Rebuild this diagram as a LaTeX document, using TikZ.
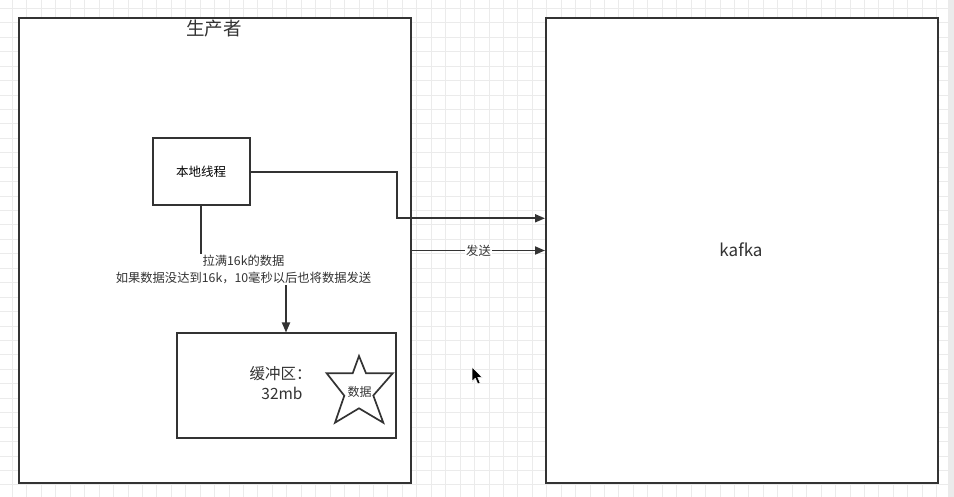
\documentclass[tikz,border=0pt]{standalone}
\usepackage{fontspec}
\setmainfont{Noto Sans CJK SC}
\usetikzlibrary{arrows.meta}
\definecolor{linec}{HTML}{333333}
\definecolor{gridc}{HTML}{EBEBEB}
\tikzset{
  px/.style={x=1pt,y=-1pt},
  gridline/.style={draw=gridc,line width=0.8pt},
  bigbox/.style={draw=linec,fill=white,line width=2pt,inner sep=0pt,anchor=north west},
  smallbox/.style={draw=linec,fill=white,line width=2pt,inner sep=0pt,anchor=north west,font=\fontsize{12.5}{15}\selectfont},
  conn/.style={draw=linec,line width=1.8pt},
  arr/.style={conn,-{Triangle[length=10pt,width=8pt]}},
  lbl/.style={fill=white,inner sep=1pt,font=\fontsize{12.3}{16.3}\selectfont,text=linec},
}
\begin{document}
\begin{tikzpicture}[px]
\useasboundingbox (0,0) rectangle (954,497);
\fill[white] (0,0) rectangle (954,497);
% grid
\foreach \i in {0,...,65} \draw[gridline] ({12.4+\i*14.44},0) -- ({12.4+\i*14.44},497);
\foreach \j in {0,...,34} \draw[gridline] (0,{8.3+\j*14.44}) -- (954,{8.3+\j*14.44});
\fill[gridc] (948,0) rectangle (954,497);
% boxes
\node[bigbox,minimum width=392pt,minimum height=465pt] (prod) at (18,17) {};
\node[font=\fontsize{18.5}{20}\selectfont,text=linec,anchor=center] (prodtitle) at (214,28.5) {生产者};
\node[bigbox,minimum width=392pt,minimum height=465pt] (kafka) at (545,17) {};
\node[font=\fontsize{17}{18}\selectfont,text=linec] (kafkalbl) at (741,250) {kafka};
\node[smallbox,minimum width=97pt,minimum height=67pt] (thread) at (151.5,137.5) {本地线程};
\node[smallbox,minimum width=219pt,minimum height=104pt] (buf) at (175.5,332.5) {};
\node[align=center,font=\fontsize{15.5}{20}\selectfont,text=linec] (buflbl) at (280.5,383) {缓冲区：\\\hspace*{3pt}32mb};
% star
\draw[draw=linec,fill=white,line width=1.7pt,line join=miter] (359,356) -- (352.7,373.3) -- (326.7,373.3) -- (344.3,395.7) -- (335,422.7) -- (359,408.3) -- (383.3,422.7) -- (373.3,395.5) -- (392.7,373.3) -- (366,373.3) -- cycle;
\node[font=\fontsize{12}{14}\selectfont,text=linec] (starlbl) at (359.5,391.5) {数据};
% connectors
\coordinate (mid) at (243.5,269.5);
\draw[arr] (thread.south) |- (mid) -| (buf.north);
\node[lbl,align=center] (midlbl) at (mid) {拉满16k的数据\\如果数据没达到16k，10毫秒以后也将数据发送};
\coordinate (bend) at (397,218.3);
\draw[arr] (thread.east) -| (bend) -- (bend -| kafka.west);
\draw[arr] (prod.east) -- node[lbl] (sendlbl) {发送} (kafka.west);
% mouse cursor
\filldraw[fill=black,draw=white,line width=0.6pt] (472,367) -- (472,381.5) -- (475.3,378.3) -- (477.8,384) -- (480.2,383) -- (477.8,377.4) -- (482.3,377.4) -- cycle;
\end{tikzpicture}
\end{document}
